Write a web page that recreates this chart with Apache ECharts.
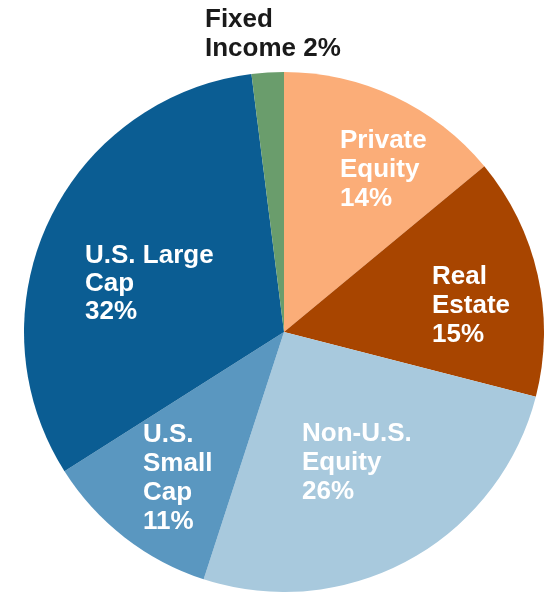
<!DOCTYPE html>
<html>
<head>
<meta charset="utf-8">
<script src="https://cdn.jsdelivr.net/npm/echarts@6/dist/echarts.min.js"></script>
<style>
html,body{margin:0;padding:0;background:#fff;}
#chart{width:546px;height:592px;}
</style>
</head>
<body>
<div id="chart"></div>
<script>
var categories = ['Private Equity', 'Real Estate', 'Non-U.S. Equity', 'U.S. Small Cap', 'U.S. Large Cap', 'Fixed Income'];
var values = [14, 15, 26, 11, 32, 2];
var labelTexts = ['Private\nEquity', 'Real\nEstate', 'Non-U.S.\nEquity', 'U.S.\nSmall\nCap', 'U.S. Large\nCap', 'Fixed\nIncome'];

var colors = ['#FBAD78', '#A84500', '#A8C9DD', '#5A97C0', '#0B5D93', '#6A9D6C'];
var labelLayouts = [
  {x: 340, y: 126},
  {x: 432, y: 262},
  {x: 302, y: 419},
  {x: 143, y: 420},
  {x: 85, y: 242},
  {x: 205, y: 5}
];

var chart = echarts.init(document.getElementById('chart'), null, {renderer: 'canvas'});
var data = categories.map(function (c, i) {
  var isOutside = i === 5;
  return {
    name: c,
    value: values[i],
    itemStyle: {color: colors[i]},
    label: {
      formatter: labelTexts[i] + (isOutside ? ' ' : '\n') + values[i] + '%',
      color: isOutside ? '#1a1a1a' : '#ffffff',
      lineHeight: i === 4 ? 28 : 29
    },
    labelLine: {show: false}
  };
});

chart.setOption({
  animation: false,
  series: [{
    type: 'pie',
    center: [284, 332],
    radius: [0, 260],
    startAngle: 90,
    clockwise: true,
    avoidLabelOverlap: false,
    itemStyle: {borderWidth: 0},
    label: {
      show: true,
      position: 'inside',
      fontFamily: 'Liberation Sans, Arial, sans-serif',
      fontWeight: 'bold',
      fontSize: 26,
      align: 'left'
    },
    labelLine: {show: false},
    labelLayout: function (params) {
      var p = labelLayouts[params.dataIndex];
      return {x: p.x, y: p.y, align: 'left', verticalAlign: 'top'};
    },
    data: data
  }]
});
</script>
</body>
</html>
